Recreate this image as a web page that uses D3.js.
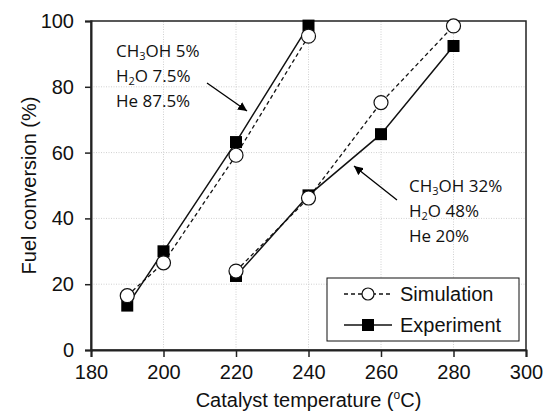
<!DOCTYPE html>
<html>
<head>
<meta charset="utf-8">
<script src="https://cdn.jsdelivr.net/npm/d3@7"></script>
<style>
  body { margin: 0; background: #fff; }
  svg text { font-family: Arial, "Liberation Sans", sans-serif; }
  .note { font-family: "Open Sans", "Noto Sans", sans-serif; }
</style>
</head>
<body>
<div id="chart"></div>
<script>
// temperatures (°C)
const tempLow = [190, 200, 220, 240];
const tempHigh = [220, 240, 260, 280];
// CH3OH 5% / H2O 7.5% / He 87.5%
const simLow = [16.5, 26.5, 59.2, 95.4];
const expLow = [13.5, 30.0, 63.2, 98.6];
// CH3OH 32% / H2O 48% / He 20%
const simHigh = [24.0, 46.2, 75.2, 98.5];
const expHigh = [22.5, 47.0, 65.6, 92.4];

const xTicks = [180, 200, 220, 240, 260, 280, 300];
const yTicks = [0, 20, 40, 60, 80, 100];

const W = 548, H = 419;
const margin = { left: 91, right: 22, top: 21, bottom: 69 };

const svg = d3.select('#chart').append('svg')
    .attr('width', W).attr('height', H);

const x = d3.scaleLinear().domain([180, 300]).range([margin.left, W - margin.right]);
const y = d3.scaleLinear().domain([0, 100]).range([H - margin.bottom, margin.top]);

// grid
svg.append('g').selectAll('line.gx').data(xTicks.slice(1, -1)).join('line')
    .attr('x1', d => x(d)).attr('x2', d => x(d))
    .attr('y1', y(0)).attr('y2', y(100))
    .attr('stroke', '#d0d0d0').attr('stroke-dasharray', '1,1.5');
svg.append('g').selectAll('line.gy').data(yTicks.slice(1, -1)).join('line')
    .attr('x1', x(180)).attr('x2', x(300))
    .attr('y1', d => y(d)).attr('y2', d => y(d))
    .attr('stroke', '#d0d0d0').attr('stroke-dasharray', '1,1.5');

// frame
svg.append('rect')
    .attr('x', x(180)).attr('y', y(100))
    .attr('width', x(300) - x(180)).attr('height', y(0) - y(100))
    .attr('fill', 'none').attr('stroke', '#222').attr('stroke-width', 1.5);

// axes
const xAxis = svg.append('g')
    .attr('transform', `translate(0,${y(0)})`)
    .call(d3.axisBottom(x).tickValues(xTicks).tickSize(7).tickPadding(8));
const yAxis = svg.append('g')
    .attr('transform', `translate(${x(180)},0)`)
    .call(d3.axisLeft(y).tickValues(yTicks).tickSize(6).tickPadding(11));
[xAxis, yAxis].forEach(a => {
    a.select('.domain').attr('stroke', '#222').attr('stroke-width', 2);
    a.selectAll('.tick line').attr('stroke', '#222').attr('stroke-width', 1.5);
    a.selectAll('.tick text').attr('font-size', 20).attr('fill', '#111')
        .style('font-family', 'Arial, "Liberation Sans", sans-serif');
});

// axis titles
const xt = svg.append('text')
    .attr('x', (x(180) + x(300)) / 2).attr('y', 407)
    .attr('text-anchor', 'middle').attr('font-size', 20).attr('fill', '#111');
xt.append('tspan').text('Catalyst temperature (');
xt.append('tspan').attr('font-size', 12).attr('dy', -8).text('o');
xt.append('tspan').attr('dy', 8).text('C)');

svg.append('text')
    .attr('transform', `translate(36,${(y(0) + y(100)) / 2}) rotate(-90)`)
    .attr('text-anchor', 'middle').attr('font-size', 20).attr('fill', '#111')
    .text('Fuel conversion (%)');

// series
const line = d3.line().x(d => x(d[0])).y(d => y(d[1]));
const groups = [
    { t: tempLow, sim: simLow, exp: expLow },
    { t: tempHigh, sim: simHigh, exp: expHigh }
];
groups.forEach(g => {
    const simPts = g.t.map((t, i) => [t, g.sim[i]]);
    const expPts = g.t.map((t, i) => [t, g.exp[i]]);
    svg.append('path').datum(simPts).attr('d', line)
        .attr('fill', 'none').attr('stroke', '#111').attr('stroke-width', 1.3)
        .attr('stroke-dasharray', '4,3');
    svg.append('path').datum(expPts).attr('d', line)
        .attr('fill', 'none').attr('stroke', '#111').attr('stroke-width', 1.5);
    svg.append('g').selectAll('rect').data(expPts).join('rect')
        .attr('x', d => x(d[0]) - 6).attr('y', d => y(d[1]) - 6)
        .attr('width', 12).attr('height', 12).attr('fill', '#000');
    svg.append('g').selectAll('circle').data(simPts).join('circle')
        .attr('cx', d => x(d[0])).attr('cy', d => y(d[1])).attr('r', 7)
        .attr('fill', '#fff').attr('stroke', '#111').attr('stroke-width', 1.2);
});

// annotations
svg.append('defs').append('marker')
    .attr('id', 'ah').attr('viewBox', '0 0 10 10').attr('refX', 10).attr('refY', 5)
    .attr('markerWidth', 9).attr('markerHeight', 9).attr('orient', 'auto')
    .attr('markerUnits', 'userSpaceOnUse')
    .append('path').attr('d', 'M0,0 L10,5 L0,10 z').attr('fill', '#000');

function note(x0, y0, parts) {
    const t = svg.append('text').attr('class', 'note')
        .attr('x', x0).attr('y', y0).attr('font-size', 17).attr('fill', '#111');
    parts.forEach((line, i) => {
        line.forEach((p, j) => {
            const s = t.append('tspan');
            if (j === 0) s.attr('x', x0).attr('dy', i === 0 ? 0 : 25);
            if (p.sub) s.attr('font-size', 11).attr('baseline-shift', '-25%');
            s.text(p.s);
        });
    });
}
note(116, 57, [
    [{ s: 'CH' }, { s: '3', sub: true }, { s: 'OH 5%' }],
    [{ s: 'H' }, { s: '2', sub: true }, { s: 'O 7.5%' }],
    [{ s: 'He 87.5%' }]
]);
note(409, 192, [
    [{ s: 'CH' }, { s: '3', sub: true }, { s: 'OH 32%' }],
    [{ s: 'H' }, { s: '2', sub: true }, { s: 'O 48%' }],
    [{ s: 'He 20%' }]
]);
svg.append('line').attr('x1', 207).attr('y1', 83).attr('x2', 247).attr('y2', 111)
    .attr('stroke', '#000').attr('stroke-width', 1.3).attr('marker-end', 'url(#ah)');
svg.append('line').attr('x1', 397).attr('y1', 200).attr('x2', 354).attr('y2', 166)
    .attr('stroke', '#000').attr('stroke-width', 1.3).attr('marker-end', 'url(#ah)');

// legend
const lg = svg.append('g').attr('transform', 'translate(327,278)');
lg.append('rect').attr('width', 192).attr('height', 63)
    .attr('fill', '#fff').attr('stroke', '#111').attr('stroke-width', 1);
const legendItems = [
    { label: 'Simulation', dash: '4,3', marker: 'circle' },
    { label: 'Experiment', dash: null, marker: 'square' }
];
legendItems.forEach((d, i) => {
    const cy = 16 + i * 31;
    lg.append('line').attr('x1', 17).attr('x2', 65).attr('y1', cy).attr('y2', cy)
        .attr('stroke', '#111').attr('stroke-width', 1.3)
        .attr('stroke-dasharray', d.dash);
    if (d.marker === 'circle') {
        lg.append('circle').attr('cx', 41).attr('cy', cy).attr('r', 6)
            .attr('fill', '#fff').attr('stroke', '#111').attr('stroke-width', 1.2);
    } else {
        lg.append('rect').attr('x', 35).attr('y', cy - 6).attr('width', 12).attr('height', 12)
            .attr('fill', '#000');
    }
    lg.append('text').attr('x', 73).attr('y', cy + 7).attr('font-size', 20)
        .attr('fill', '#111').text(d.label);
});
</script>
</body>
</html>
